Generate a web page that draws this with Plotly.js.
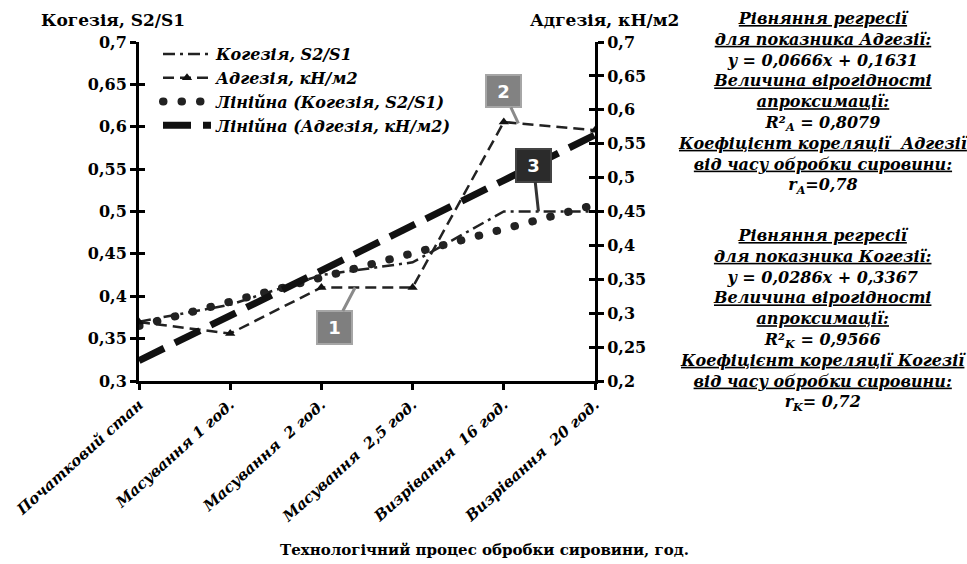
<!DOCTYPE html>
<html>
<head>
<meta charset="utf-8">
<script src="https://cdn.plot.ly/plotly-3.0.1.min.js"></script>
<style>html,body{margin:0;padding:0;background:#fff;}#chart{width:967px;height:564px;}</style>
</head>
<body>
<div id="chart"></div>
<script>
const categories = ['Початковий стан','Масування 1 год.','Масування  2 год.','Масування  2,5 год.','Визрівання  16 год.','Визрівання  20 год.'];
const cohesion = [0.37, 0.39, 0.425, 0.44, 0.50, 0.50];
const adhesion = [0.287, 0.27, 0.338, 0.338, 0.582, 0.57];
const cohesionTrend = [0.365, 0.394, 0.422, 0.451, 0.480, 0.508];
const adhesionTrend = [0.230, 0.296, 0.363, 0.429, 0.496, 0.563];
const leftTickVals = [0.3, 0.35, 0.4, 0.45, 0.5, 0.55, 0.6, 0.65, 0.7];
const leftTickText = ['0,3','0,35','0,4','0,45','0,5','0,55','0,6','0,65','0,7'];
const rightTickVals = [0.2, 0.25, 0.3, 0.35, 0.4, 0.45, 0.5, 0.55, 0.6, 0.65, 0.7];
const rightTickText = ['0,2','0,25','0,3','0,35','0,4','0,45','0,5','0,55','0,6','0,65','0,7'];
const seriesNames = ['Когезія, S2/S1','Адгезія, кН/м2','Лінійна (Когезія, S2/S1)','Лінійна (Адгезія, кН/м2)'];
const leftTitle = 'Когезія, S2/S1';
const rightTitle = 'Адгезія, кН/м2';
const xTitle = 'Технологічний процес обробки сировини, год.';
const block1 = ['<u>Рівняння регресії</u>','<u>для показника Адгезії:</u>','y = 0,0666x + 0,1631','<u>Величина вірогідності</u>','<u>апроксимації:</u>','R²<sub>A</sub> = 0,8079','<u>Коефіцієнт кореляції  Адгезії</u>','<u>від часу обробки сировини:</u>','r<sub>A</sub>=0,78'];
const block2 = ['<u>Рівняння регресії</u>','<u>для показника Когезії:</u>','y = 0,0286x + 0,3367','<u>Величина вірогідності</u>','<u>апроксимації:</u>','R²<sub>K</sub> = 0,9566','<u>Коефіцієнт кореляції Когезії</u>','<u>від часу обробки сировини:</u>','r<sub>K</sub>= 0,72'];

const L = 139, R = 595, T = 42, B = 381, W = 967, H = 564;
const px = x => (x - L) / (R - L);
const py = y => (B - y) / (B - T);
const SERIF = '"DejaVu Serif", serif';

const traces = [
  {x: categories, y: cohesion, name: seriesNames[0], type: 'scatter', mode: 'lines',
   line: {color: '#222', width: 2.5, dash: '12px,5px,3px,5px'}, yaxis: 'y'},
  {x: categories, y: adhesion, name: seriesNames[1], type: 'scatter', mode: 'lines+markers',
   line: {color: '#222', width: 2.5, dash: '11px,6px'}, marker: {symbol: 'triangle-up', size: 9, color: '#111'}, yaxis: 'y2'},
  {x: categories, y: cohesionTrend, name: seriesNames[2], type: 'scatter', mode: 'lines',
   line: {color: '#222', width: 8, dash: '0.5px,18px'}, yaxis: 'y'},
  {x: categories, y: adhesionTrend, name: seriesNames[3], type: 'scatter', mode: 'lines',
   line: {color: '#111', width: 7, dash: '28px,12px'}, yaxis: 'y2'},
  {x: categories, y: [null,null,null,null,null,null], yaxis: 'y3', showlegend: false, hoverinfo: 'skip', mode: 'lines'},
  {x: categories, y: [null,null,null,null,null,null], yaxis: 'y4', showlegend: false, hoverinfo: 'skip', mode: 'lines'}
];

const tickFont = {family: SERIF, size: 16, color: '#000', weight: 'bold'};
const boxFont = {family: '"DejaVu Sans", sans-serif', size: 18, color: '#fff', weight: 'bold'};
const layout = {
  width: W, height: H,
  margin: {l: L, r: W - R, t: T, b: H - B, pad: 0},
  paper_bgcolor: '#fff', plot_bgcolor: '#fff',
  showlegend: true,
  legend: {x: px(158), y: py(37), xanchor: 'left', yanchor: 'top', bgcolor: 'rgba(0,0,0,0)', itemwidth: 48,
           font: {family: SERIF, size: 16, color: '#000', weight: 'bold', style: 'italic'}, tracegroupgap: 0},
  xaxis: {type: 'category', range: [0, 5], showgrid: false, zeroline: false, showline: true, linecolor: '#000', linewidth: 3,
          ticks: 'outside', ticklen: 6, tickwidth: 3, tickcolor: '#000', tickangle: -42,
          tickfont: {family: SERIF, size: 15, color: '#000', weight: 'bold', style: 'italic'}},
  yaxis: {range: [0.3, 0.7], tickvals: leftTickVals, ticktext: leftTickText, showgrid: false, zeroline: false,
          showline: true, linecolor: '#000', linewidth: 3, ticks: 'outside', ticklen: 6, tickwidth: 3, tickcolor: '#000',
          tickfont: tickFont},
  yaxis2: {range: [0.2, 0.7], tickvals: rightTickVals, ticktext: rightTickText, overlaying: 'y', side: 'right', showgrid: false, zeroline: false,
          showline: true, linecolor: '#000', linewidth: 3, ticks: 'outside', ticklen: 6, tickwidth: 3, tickcolor: '#000',
          tickfont: tickFont},
  yaxis3: {range: [0.3, 0.7], tickvals: leftTickVals, overlaying: 'y', side: 'left', showgrid: false, zeroline: false,
          showline: false, ticks: 'inside', ticklen: 6, tickwidth: 3, tickcolor: '#000', showticklabels: false},
  yaxis4: {range: [0.2, 0.7], tickvals: rightTickVals, overlaying: 'y', side: 'right', showgrid: false, zeroline: false,
          showline: false, ticks: 'inside', ticklen: 6, tickwidth: 3, tickcolor: '#000', showticklabels: false},
  annotations: [
    {xref: 'paper', yref: 'paper', x: px(113), y: py(20), xanchor: 'center', yanchor: 'middle', text: leftTitle, showarrow: false,
     font: {family: SERIF, size: 17, color: '#000', weight: 'bold'}},
    {xref: 'paper', yref: 'paper', x: px(604), y: py(20), xanchor: 'center', yanchor: 'middle', text: rightTitle, showarrow: false,
     font: {family: SERIF, size: 17, color: '#000', weight: 'bold'}},
    {xref: 'paper', yref: 'paper', x: px(484), y: py(550), xanchor: 'center', yanchor: 'middle', text: xTitle, showarrow: false,
     font: {family: SERIF, size: 15, color: '#000', weight: 'bold'}},
    {xref: 'paper', yref: 'paper', x: px(823), y: py(103), xanchor: 'center', yanchor: 'middle', text: block1.join('<br>'), showarrow: false, align: 'center',
     font: {family: SERIF, size: 16, color: '#000', weight: 'bold', style: 'italic'}},
    {xref: 'paper', yref: 'paper', x: px(823), y: py(320), xanchor: 'center', yanchor: 'middle', text: block2.join('<br>'), showarrow: false, align: 'center',
     font: {family: SERIF, size: 16, color: '#000', weight: 'bold', style: 'italic'}},
    {xref: 'x', yref: 'y2', x: 2.37, y: 0.338, ax: -21, ay: 40, text: '1', showarrow: true, arrowhead: 0, arrowwidth: 3, arrowcolor: '#8a8a8a',
     bgcolor: '#7f7f7f', bordercolor: '#a6a6a6', borderwidth: 2, width: 33, height: 31, borderpad: 0, font: boxFont},
    {xref: 'x', yref: 'y2', x: 4.16, y: 0.580, ax: -15, ay: -32, text: '2', showarrow: true, arrowhead: 0, arrowwidth: 3, arrowcolor: '#8a8a8a',
     bgcolor: '#828282', bordercolor: '#a6a6a6', borderwidth: 2, width: 33, height: 30, borderpad: 0, font: boxFont},
    {xref: 'x', yref: 'y', x: 4.38, y: 0.50, ax: -5, ay: -46, text: '3', showarrow: true, arrowhead: 0, arrowwidth: 3, arrowcolor: '#333',
     bgcolor: '#2b2b2b', bordercolor: '#444', borderwidth: 2, width: 33, height: 31, borderpad: 0, font: boxFont}
  ]
};

Plotly.newPlot('chart', traces, layout, {displayModeBar: false, staticPlot: true}).then(function(gd){
  gd.querySelectorAll('path').forEach(function(p){
    var d = p.style.strokeDasharray || '';
    if (d.indexOf('18px') >= 0) { p.style.strokeLinecap = 'round'; }
  });
});
</script>
</body>
</html>
